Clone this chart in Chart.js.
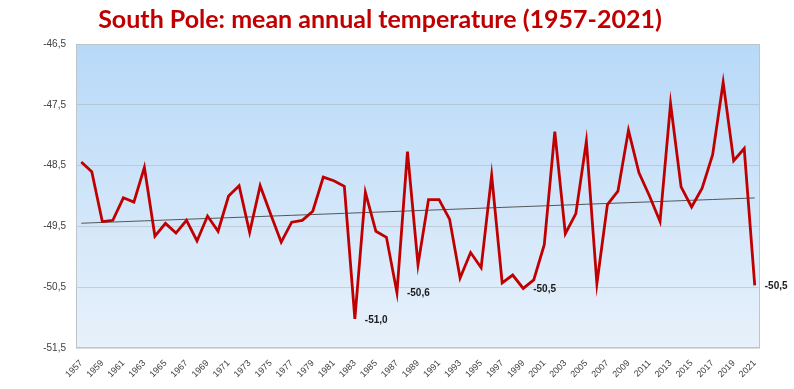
<!DOCTYPE html>
<html>
<head>
<meta charset="utf-8">
<script src="https://cdn.jsdelivr.net/npm/chart.js@4.4.1/dist/chart.umd.min.js"></script>
<style>
  html, body { margin: 0; padding: 0; background: #fff; }
  #wrap { width: 794px; height: 389px; }
</style>
</head>
<body>
<div id="wrap"><canvas id="chart"></canvas></div>
<script>
// ----- DATOS ----- //
const YEARS = [1957, 1958, 1959, 1960, 1961, 1962, 1963, 1964, 1965, 1966,
               1967, 1968, 1969, 1970, 1971, 1972, 1973, 1974, 1975, 1976,
               1977, 1978, 1979, 1980, 1981, 1982, 1983, 1984, 1985, 1986,
               1987, 1988, 1989, 1990, 1991, 1992, 1993, 1994, 1995, 1996,
               1997, 1998, 1999, 2000, 2001, 2002, 2003, 2004, 2005, 2006,
               2007, 2008, 2009, 2010, 2011, 2012, 2013, 2014, 2015, 2016,
               2017, 2018, 2019, 2020, 2021];
const TEMPS = [-48.44, -48.60, -49.42, -49.40, -49.03, -49.10, -48.53, -49.66, -49.45, -49.61,
               -49.40, -49.74, -49.33, -49.58, -49.00, -48.83, -49.60, -48.83, -49.30, -49.76,
               -49.43, -49.40, -49.25, -48.69, -48.75, -48.84, -51.02, -48.94, -49.58, -49.68,
               -50.59, -48.27, -50.13, -49.06, -49.06, -49.38, -50.35, -49.93, -50.18, -48.66,
               -50.43, -50.30, -50.52, -50.38, -49.80, -47.94, -49.62, -49.29, -48.10, -50.44,
               -49.14, -48.92, -47.92, -48.62, -49.00, -49.42, -47.48, -48.85, -49.18, -48.87,
               -48.32, -47.13, -48.42, -48.22, -50.47];
const Y_TICKS = [-51.5, -50.5, -49.5, -48.5, -47.5, -46.5];
const LABELED_YEARS = [1983, 1987, 1999, 2021];

// tendencia lineal (mínimos cuadrados sobre la serie)
function linearTrend(vals) {
    const n = vals.length;
    let sx = 0, sy = 0, sxy = 0, sxx = 0;
    vals.forEach((v, i) => { sx += i; sy += v; sxy += i * v; sxx += i * i; });
    const b = (n * sxy - sx * sy) / (n * sxx - sx * sx);
    const a = (sy - b * sx) / n;
    return vals.map((_, i) => a + b * i);
}

const fmt = v => v.toFixed(1).replace('.', ',');

// ----- PLUGINS ----- //
const plotBackground = {
    id: 'plotBackground',
    beforeDraw(chart) {
        const {ctx, chartArea: a} = chart;
        const g = ctx.createLinearGradient(0, a.top, 0, a.bottom);
        g.addColorStop(0, '#b7d9f8');
        g.addColorStop(1, '#e8f1fb');
        ctx.save();
        ctx.fillStyle = g;
        ctx.fillRect(a.left, a.top, a.right - a.left, a.bottom - a.top);
        ctx.restore();
    },
    afterDraw(chart) {
        const {ctx, chartArea: a} = chart;
        ctx.save();
        ctx.strokeStyle = '#bfc4c9';
        ctx.lineWidth = 1;
        ctx.strokeRect(a.left + 0.5, a.top + 0.5, a.right - a.left - 1, a.bottom - a.top - 1);
        ctx.restore();
    }
};

const pointLabels = {
    id: 'pointLabels',
    afterDatasetsDraw(chart) {
        const ctx = chart.ctx;
        const meta = chart.getDatasetMeta(0);
        ctx.save();
        ctx.font = 'bold 10px "Liberation Sans"';
        ctx.fillStyle = '#1a1a1a';
        ctx.textAlign = 'left';
        ctx.textBaseline = 'middle';
        LABELED_YEARS.forEach(yr => {
            const i = YEARS.indexOf(yr);
            const p = meta.data[i];
            ctx.fillText(fmt(TEMPS[i]), p.x + 10, p.y + 1);
        });
        ctx.restore();
    }
};

// ----- GRÁFICO ----- //
new Chart(document.getElementById('chart'), {
    type: 'line',
    data: {
        labels: YEARS.map(String),
        datasets: [{
            data: TEMPS,
            borderColor: '#c00000',
            borderWidth: 2.8,
            pointRadius: 0,
            tension: 0
        }, {
            data: linearTrend(TEMPS),
            borderColor: 'rgba(60,60,60,0.85)',
            borderWidth: 1,
            pointRadius: 0,
            tension: 0
        }]
    },
    options: {
        responsive: true,
        maintainAspectRatio: false,
        animation: false,
        layout: { padding: { left: 0, right: 34, top: 0, bottom: 0 } },
        plugins: {
            legend: { display: false },
            tooltip: { enabled: false },
            title: {
                display: true,
                text: 'South Pole: mean annual temperature (1957-2021)',
                color: '#c00000',
                font: { family: 'Lato', size: 25, weight: 'bold' },
                padding: { top: 5, bottom: 9 }
            }
        },
        scales: {
            x: {
                type: 'category',
                offset: true,
                grid: { display: false, drawTicks: false },
                border: { display: false },
                ticks: {
                    autoSkip: false,
                    maxRotation: 45,
                    minRotation: 45,
                    padding: 10,
                    color: '#404040',
                    font: { family: 'Liberation Sans', size: 9 },
                    callback: (v, i) => (i % 2 === 0 ? YEARS[i] : '')
                },
                afterFit: s => { s.height = 41; }
            },
            y: {
                min: -51.5,
                max: -46.5,
                grid: { color: 'rgba(160,165,170,0.4)', drawTicks: false },
                border: { display: false },
                afterBuildTicks: s => { s.ticks = Y_TICKS.map(v => ({value: v})); },
                ticks: {
                    padding: 10,
                    color: '#404040',
                    font: { family: 'Liberation Sans', size: 10 },
                    callback: v => fmt(v)
                },
                afterFit: s => { s.width = 76; }
            }
        }
    },
    plugins: [plotBackground, pointLabels]
});
</script>
</body>
</html>
